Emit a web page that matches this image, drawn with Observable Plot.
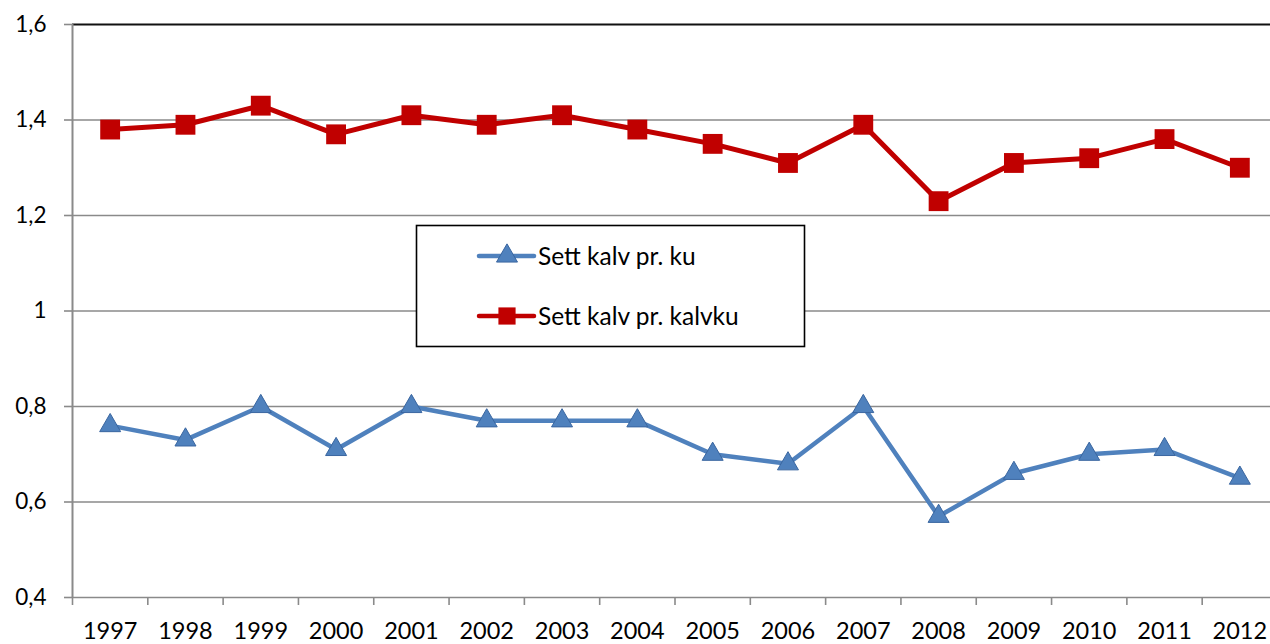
<!DOCTYPE html>
<html>
<head>
<meta charset="utf-8">
<script src="https://cdn.jsdelivr.net/npm/d3@7"></script>
<script src="https://cdn.jsdelivr.net/npm/@observablehq/plot@0.6"></script>
<style>
  html, body { margin: 0; padding: 0; background: #fff; overflow: hidden; }
  #wrap { position: relative; width: 1270px; height: 644px; font-family: Lato, "Open Sans", sans-serif; }
  #legend { position: absolute; left: 0; top: 0; pointer-events: none; }
</style>
</head>
<body>
<div id="wrap"></div>
<script>
const years = [1997,1998,1999,2000,2001,2002,2003,2004,2005,2006,2007,2008,2009,2010,2011,2012];
const settKalvPrKu =     [0.76,0.73,0.80,0.71,0.80,0.77,0.77,0.77,0.70,0.68,0.80,0.57,0.66,0.70,0.71,0.65];
const settKalvPrKalvku = [1.38,1.39,1.43,1.37,1.41,1.39,1.41,1.38,1.35,1.31,1.39,1.23,1.31,1.32,1.36,1.30];
const yTicks = [0.4,0.6,0.8,1.0,1.2,1.4,1.6];
const seriesNames = ["Sett kalv pr. ku", "Sett kalv pr. kalvku"];

const blue = "#4F81BD", blueDark = "#3A66A0", red = "#C00000";
const bounds = [years[0] - 0.5, ...years.map(y => y + 0.5)];
const fmt = d => String(+d.toFixed(2)).replace(".", ",");

const ku = years.map((y, i) => ({year: y, value: settKalvPrKu[i]}));
const kalvku = years.map((y, i) => ({year: y, value: settKalvPrKalvku[i]}));

const chart = Plot.plot({
  width: 1270,
  height: 644,
  marginLeft: 72,
  marginRight: 0,
  marginTop: 24,
  marginBottom: 47,
  style: {fontFamily: "Lato, 'Open Sans', sans-serif", color: "#000", background: "#fff", overflow: "visible"},
  x: {type: "linear", domain: [bounds[0], bounds[bounds.length - 1]], range: [72, 1277], label: null},
  y: {domain: [0.4, 1.6], label: null},
  marks: [
    Plot.ruleY(yTicks.slice(0, -1), {y: d => d, stroke: "#8a8a8a", strokeWidth: 1.6}),
    Plot.ruleY([1.6], {y: d => d, stroke: "#111", strokeWidth: 1.8}),
    Plot.ruleX([bounds[0]], {x: d => d, stroke: "#8a8a8a", strokeWidth: 2}),
    Plot.axisY({ticks: yTicks, tickSize: 8, tickPadding: 18, tickFormat: fmt, fontSize: 22.5, label: null, stroke: "#8a8a8a", strokeWidth: 1.6, strokeOpacity: 1, fill: "#000"}),
    Plot.axisX({ticks: bounds, tickSize: 8, tickFormat: () => "", label: null, stroke: "#8a8a8a", strokeWidth: 1.6, strokeOpacity: 1}),
    Plot.axisX({ticks: years, tickSize: 0, tickPadding: 25, tickFormat: d => String(d), label: null, fontSize: 23.5, fill: "#000"}),
    Plot.line(ku, {x: "year", y: "value", stroke: blue, strokeWidth: 4.5}),
    Plot.line(kalvku, {x: "year", y: "value", stroke: red, strokeWidth: 5}),
    Plot.dot(ku, {x: "year", y: "value", symbol: "triangle", r: 7.8, fill: blue, stroke: blueDark, strokeWidth: 1}),
    Plot.dot(kalvku, {x: "year", y: "value", symbol: "square", r: 11.2, fill: red, stroke: "none"})
  ]
});
const wrap = document.getElementById("wrap");
wrap.appendChild(chart);

// Legend box
const ns = "http://www.w3.org/2000/svg";
const lg = document.createElementNS(ns, "svg");
lg.setAttribute("id", "legend");
lg.setAttribute("width", 1270);
lg.setAttribute("height", 644);
const items = [
  {name: seriesNames[0], color: blue, sym: d3.symbolTriangle, size: Math.PI * 7.8 * 7.8, fill: blue, stroke: blueDark, cy: 256},
  {name: seriesNames[1], color: red, sym: d3.symbolSquare, size: Math.PI * 11.2 * 11.2 * 0.75, fill: red, stroke: "none", cy: 316}
];
let html = `<rect x="416.5" y="225.5" width="388" height="121" fill="#fff" stroke="#000" stroke-width="1.6"/>`;
for (const it of items) {
  const path = d3.symbol(it.sym, it.size)();
  html += `<line x1="479" x2="534" y1="${it.cy}" y2="${it.cy}" stroke="${it.color}" stroke-width="4.5" stroke-linecap="round"/>`;
  html += `<path d="${path}" transform="translate(507,${it.cy})" fill="${it.fill}" stroke="${it.stroke}" stroke-width="1"/>`;
  html += `<text x="538" y="${it.cy}" dy="0.35em" font-size="24.5" font-family="Lato, 'Open Sans', sans-serif" fill="#000">${it.name}</text>`;
}
lg.innerHTML = html;
wrap.appendChild(lg);
</script>
</body>
</html>
